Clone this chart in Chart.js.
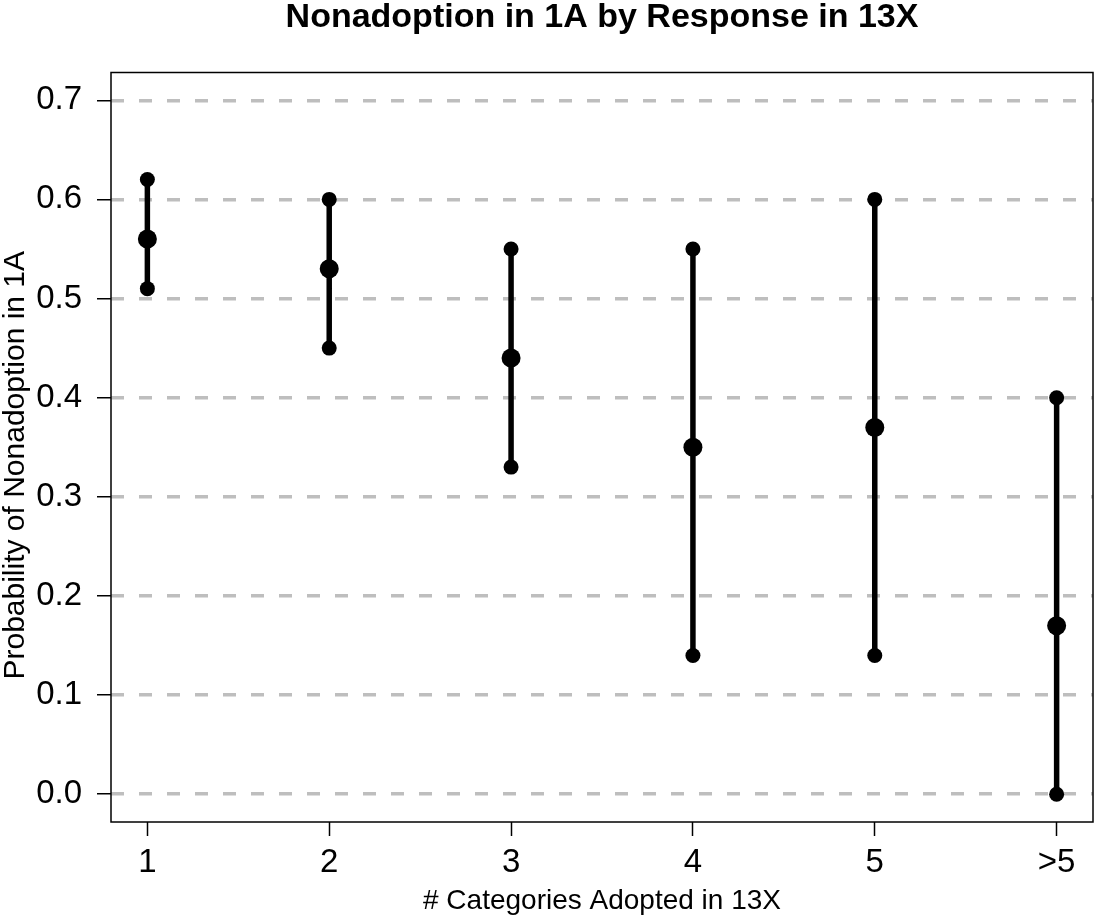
<!DOCTYPE html>
<html>
<head>
<meta charset="utf-8">
<script src="https://cdn.jsdelivr.net/npm/chart.js@4/dist/chart.umd.min.js"></script>
<style>
  html, body { margin: 0; padding: 0; background: #fff; }
  #wrap { width: 1094px; height: 921px; }
</style>
</head>
<body>
<div id="wrap"><canvas id="c" width="1094" height="921"></canvas></div>
<script>
// ---- data ----
const categories = ['1', '2', '3', '4', '5', '>5'];
const means = [0.56, 0.53, 0.44, 0.35, 0.37, 0.17];
const lower = [0.51, 0.45, 0.33, 0.14, 0.14, 0.00];
const upper = [0.62, 0.60, 0.55, 0.55, 0.60, 0.40];
const yTicks = [0.0, 0.1, 0.2, 0.3, 0.4, 0.5, 0.6, 0.7];

const chartTitle = 'Nonadoption in 1A by Response in 13X';
const xTitle = '# Categories Adopted in 13X';
const yTitle = 'Probability of Nonadoption in 1A';

// build datasets from the arrays
const barPoints = [];
categories.forEach((c, i) => {
  barPoints.push({ x: i, y: lower[i] });
  barPoints.push({ x: i, y: upper[i] });
  barPoints.push({ x: i, y: null });
});
const meanPoints = categories.map((c, i) => ({ x: i, y: means[i] }));

const FONT = "'Liberation Sans', Arial, Helvetica, sans-serif";
Chart.defaults.font.family = FONT;
Chart.defaults.color = '#000';

// plot box + titles (R-style placement: centred on the plot region)
const boxPlugin = {
  id: 'box',
  afterDatasetsDraw(chart) {
    const { ctx, chartArea: a } = chart;
    ctx.save();
    ctx.strokeStyle = '#000';
    ctx.lineWidth = 1.5;
    ctx.strokeRect(a.left, a.top, a.right - a.left, a.bottom - a.top);
    ctx.restore();
  },
  afterDraw(chart) {
    const { ctx, chartArea: a } = chart;
    ctx.save();
    ctx.fillStyle = '#000';
    ctx.textAlign = 'center';
    ctx.textBaseline = 'alphabetic';
    ctx.font = "bold 34px " + FONT;
    ctx.fillText(chartTitle, (a.left + a.right) / 2, 27);
    ctx.font = "30px " + FONT;
    ctx.translate(24, (a.top + a.bottom) / 2 + 18);
    ctx.rotate(-Math.PI / 2);
    ctx.fillText(yTitle, 0, 0);
    ctx.restore();
  }
};

new Chart(document.getElementById('c'), {
  type: 'scatter',
  data: {
    datasets: [
      {
        label: 'interval',
        data: barPoints,
        showLine: true,
        spanGaps: false,
        borderColor: '#000',
        borderWidth: 5.5,
        pointRadius: 7.5,
        pointBackgroundColor: '#000',
        pointBorderWidth: 0,
        order: 2
      },
      {
        label: 'mean',
        data: meanPoints,
        showLine: false,
        pointRadius: 9.5,
        pointBackgroundColor: '#000',
        pointBorderWidth: 0,
        order: 1
      }
    ]
  },
  options: {
    responsive: false,
    animation: false,
    layout: { autoPadding: false, padding: { left: 0, right: 1, top: 72.5, bottom: 0 } },
    plugins: {
      legend: { display: false },
      tooltip: { enabled: false },
      title: { display: false }
    },
    scales: {
      x: {
        type: 'linear',
        min: -0.2,
        max: 5.2,
        afterBuildTicks: (scale) => { scale.ticks = categories.map((c, i) => ({ value: i })); },
        afterFit: (scale) => { scale.height = 99; scale.paddingLeft = 0; scale.paddingRight = 0; },
        ticks: {
          callback: (v) => categories[v],
          font: { size: 33 },
          padding: 7,
          color: '#000',
          maxRotation: 0,
          autoSkip: false
        },
        grid: {
          drawOnChartArea: false,
          tickColor: '#000',
          tickWidth: 1.5,
          tickLength: 14
        },
        border: { display: false },
        title: {
          display: true,
          text: xTitle,
          color: '#000',
          font: { size: 28, lineHeight: 1 },
          padding: { top: 0, bottom: 6 }
        }
      },
      y: {
        type: 'linear',
        min: -0.028,
        max: 0.728,
        afterBuildTicks: (scale) => { scale.ticks = yTicks.map(v => ({ value: v })); },
        afterFit: (scale) => { scale.width = 111; scale.paddingTop = 0; scale.paddingBottom = 0; },
        ticks: {
          callback: (v) => Number(v).toFixed(1),
          font: { size: 33 },
          padding: 15,
          color: '#000'
        },
        grid: {
          color: '#BEBEBE',
          lineWidth: 3.5,
          tickColor: '#000',
          tickWidth: 1.5,
          tickLength: 14,
          tickBorderDash: []
        },
        border: { display: false, dash: [13, 15] }
      }
    }
  },
  plugins: [boxPlugin]
});
</script>
</body>
</html>
